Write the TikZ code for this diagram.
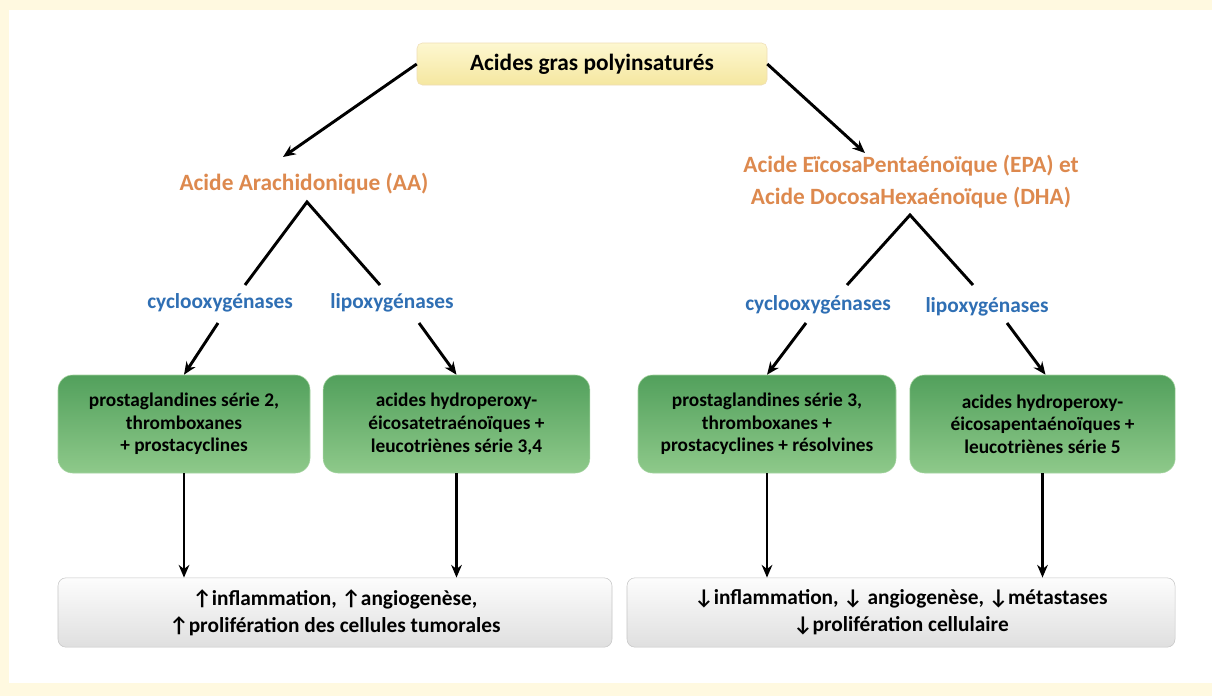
\documentclass[tikz,border=0pt]{standalone}
\usepackage{fontspec}
\setmainfont{Carlito}
\usetikzlibrary{arrows.meta,calc}

\definecolor{cream}{RGB}{255,249,224}
\definecolor{acidorange}{RGB}{221,137,78}
\definecolor{enzblue}{RGB}{47,111,180}
\definecolor{greentop}{RGB}{82,160,92}
\definecolor{greenbot}{RGB}{142,201,138}
\definecolor{yellowtop}{RGB}{253,247,208}
\definecolor{yellowbot}{RGB}{245,231,160}

\begin{document}
\begin{tikzpicture}[x=0.75pt, y=-0.75pt,
    topbox/.style={rectangle, rounded corners=4pt, draw=yellowbot!70!brown!60, top color=yellowtop, bottom color=yellowbot,
        minimum width=262.5pt, minimum height=31.5pt, font=\fontsize{17.5}{21}\selectfont\bfseries},
    acid/.style={align=center, text=acidorange, font=\fontsize{17.5}{24}\selectfont\bfseries},
    enzyme/.style={text=enzblue, font=\fontsize{16}{19}\selectfont\bfseries},
    product/.style={rectangle, rounded corners=11pt, draw=greenbot!80!white, top color=greentop, bottom color=greenbot,
        minimum height=73.5pt, align=center, font=\fontsize{14.5}{17}\selectfont\bfseries},
    effect/.style={rectangle, rounded corners=6pt, draw=gray!45, top color=gray!2, bottom color=gray!25,
        minimum height=52pt, align=center, font=\fontsize{16}{20}\selectfont\bfseries},
    arr/.style={-{Stealth[length=9.5pt, width=8pt]}, line width=2.2pt},
    branch/.style={line width=2.2pt}]
    \fill[cream] (0,0) rectangle (1212,696);
    \fill[white] (9,10) rectangle (1212,683);
    \useasboundingbox (0,0) rectangle (1212,696);

    \node[topbox] (PUFA) at (592,64) {Acides gras polyinsaturés};
    \node[acid] (AA) at (304,184) {Acide Arachidonique (AA)};
    \node[acid] (EPA) at (911,182) {Acide EïcosaPentaénoïque (EPA) et\\Acide DocosaHexaénoïque (DHA)};

    \node[enzyme] (cycloL) at (220,303) {cyclooxygénases};
    \node[enzyme] (lipoL) at (392,303) {lipoxygénases};
    \node[enzyme] (cycloR) at (818,305) {cyclooxygénases};
    \node[enzyme] (lipoR) at (987,307) {lipoxygénases};

    \node[product, minimum width=189pt] (G1) at (184,424) {prostaglandines série 2,\\thromboxanes\\+ prostacyclines};
    \node[product, minimum width=200pt] (G2) at (456.5,424) {acides hydroperoxy-\\éicosatetraénoïques +\\leucotriènes série 3,4};
    \node[product, minimum width=193.5pt] (G3) at (767,424) {prostaglandines série 3,\\thromboxanes +\\prostacyclines + résolvines};
    \node[product, minimum width=199pt] (G4) at (1042.5,424) {acides hydroperoxy-\\éicosapentaénoïques +\\leucotriènes série 5};

    \node[effect, minimum width=415.5pt] (B1) at (335,612.5) {↑inflammation, ↑angiogenèse,\\↑prolifération des cellules tumorales};
    \node[effect, minimum width=411pt] (B2) at (901,612.5) {↓inflammation, ↓ angiogenèse, ↓métastases\\↓prolifération cellulaire};

    \draw[arr] (PUFA.west) -- ($(AA)+(-21,-27)$);
    \draw[arr] (PUFA.east) -- ($(EPA)+(-46,-29)$);

    % omega-6 side
    \draw[branch] ($(cycloL)+(25,-18)$) -- ($(AA)+(3,18)$) -- ($(lipoL)+(-12,-18)$);
    \draw[arr] ($(cycloL)+(-2,20)$) -- (G1.north);
    \draw[arr] ($(lipoL)+(27,20)$) -- (G2.north);
    \draw[arr] (G1.south) -- (G1.south |- B1.north);
    \draw[arr] (G2.south) -- (G2.south |- B1.north);

    % omega-3 side
    \draw[branch] ($(cycloR)+(29,-20)$) -- ($(EPA)+(-1,33)$) -- ($(lipoR)+(-14,-22)$);
    \draw[arr] ($(cycloR)+(-12,18)$) -- (G3.north);
    \draw[arr] ($(lipoR)+(20,16)$) -- ($(G4.north)+(3,0)$);
    \draw[arr] (G3.south) -- (G3.south |- B2.north);
    \draw[arr] (G4.south) -- (G4.south |- B2.north);
\end{tikzpicture}
\end{document}
